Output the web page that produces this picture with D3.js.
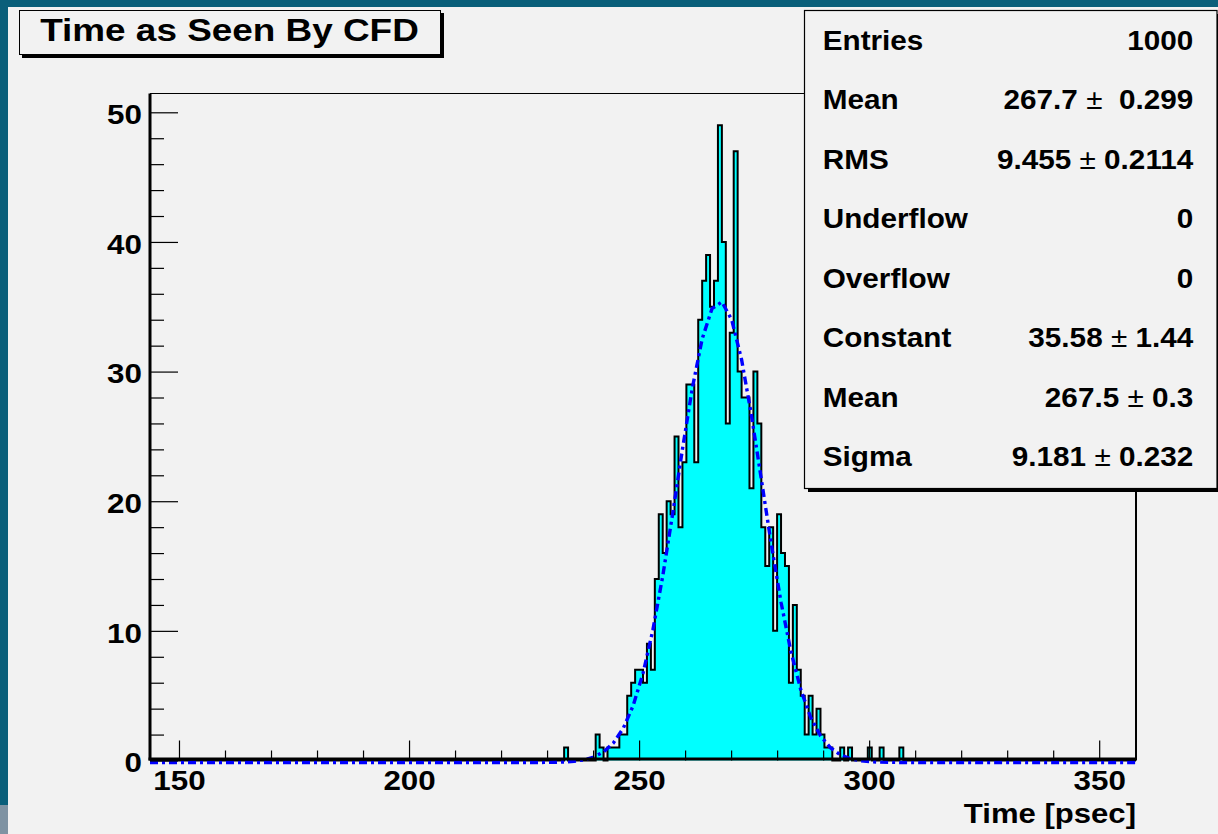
<!DOCTYPE html>
<html><head><meta charset="utf-8">
<script src="https://cdn.jsdelivr.net/npm/d3@7"></script>
<style>
body{margin:0;background:#0a5f7a;}
svg{display:block;}
text{font-family:"Liberation Sans",Arial,Helvetica,sans-serif;font-weight:bold;fill:#000;}
</style>
</head><body>
<svg id="c" width="1218" height="834"></svg>
<script>
// ---- data ----
const titleText = "Time as Seen By CFD";
const xAxisTitle = "Time [psec]";
const xMin = 143.7, xMax = 358.0, nBins = 250;
const firstBin = 100;            // index of the first bin listed in counts
const counts = [
  0,0,0,0,0,1,0,0,0,0, 0,0,0,2,1,0,1,1,1,2, 2,5,6,7,7,6,
  9,7,14,19,16,20,19,25,18,23,29,29,23,34,37,39,35,37,49,
  40,26,33,47,30,28,28,21,30,26,18,15,18,10,19,16,15,6,12,
  7,5,2,5,2,4,2,1,1,0,0,1,0,1,0,0,0,0,1,0,0,1,0,0,0,0,1
];
const fitConstant = 35.58, fitMean = 267.5, fitSigma = 9.181;
const xMajorTicks = [150, 200, 250, 300, 350];
const yMajorTicks = [0, 10, 20, 30, 40, 50];
const statLabels = ["Entries","Mean","RMS","Underflow","Overflow","Constant","Mean","Sigma"];
const statValues = [["1000"],["267.7 ","\u00b1","  0.299"],["9.455 ","\u00b1"," 0.2114"],["0"],["0"],
                    ["35.58 ","\u00b1"," 1.44"],["267.5 ","\u00b1"," 0.3"],["9.181 ","\u00b1"," 0.232"]];

// ---- drawing ----
const W = 1218, H = 834;
const teal = "#0a5f7a", pad = "#f2f2f2";
const svg = d3.select("#c");
svg.append("rect").attr("width", W).attr("height", H).attr("fill", teal);
svg.append("rect").attr("x", 0).attr("y", 805).attr("width", 10).attr("height", H - 805).attr("fill", "#7f93a3");
svg.append("rect").attr("x", 8).attr("y", 7).attr("width", W - 8).attr("height", H - 7).attr("fill", pad);

const frame = {l: 150, r: 1136, t: 93.5, b: 760.5};
const yTop = 1.05 * d3.max(counts);
const x = d3.scaleLinear().domain([xMin, xMax]).range([frame.l, frame.r]);
const y = d3.scaleLinear().domain([0, yTop]).range([frame.b, frame.t]);

function stretch(sel, f, anchor) {
  sel.each(function () {
    const L = this.getComputedTextLength();
    const el = d3.select(this);
    const x0 = +(el.attr("x") || 0);
    el.attr("textLength", L * f).attr("lengthAdjust", "spacingAndGlyphs").attr("text-anchor", "start");
    if (anchor === "middle") el.attr("x", x0 - L * f / 2);
    else if (anchor === "end") el.attr("x", x0 - L * f);
  });
}

svg.append("defs").append("clipPath").attr("id", "fr")
  .append("rect").attr("x", frame.l).attr("y", frame.t).attr("width", frame.r - frame.l).attr("height", frame.b - frame.t + 6);

// histogram
const full = new Array(nBins).fill(0);
counts.forEach((c, k) => { full[firstBin + k] = c; });
const bw = (xMax - xMin) / nBins;
const pts = [[xMin, 0]];
full.forEach((c, i) => { pts.push([xMin + i * bw, c]); pts.push([xMin + (i + 1) * bw, c]); });
pts.push([xMax, 0]);
const gh = svg.append("g").attr("clip-path", "url(#fr)");
gh.append("path")
  .attr("d", d3.area().x(d => x(d[0])).y0(y(0)).y1(d => y(d[1]))(pts))
  .attr("fill", "#00ffff");
gh.append("path")
  .attr("d", d3.line().x(d => x(d[0])).y(d => y(d[1]))(pts))
  .attr("fill", "none").attr("stroke", "#000").attr("stroke-width", 2);

// fit function drawn from its fitted parameters (100 points, as ROOT does)
const fitPts = d3.range(0, 101).map(k => {
  const v = xMin + k * (xMax - xMin) / 100;
  return [v, fitConstant * Math.exp(-0.5 * Math.pow((v - fitMean) / fitSigma, 2))];
});
gh.append("path")
  .attr("transform", "translate(0,2)")
  .attr("d", d3.line().x(d => x(d[0])).y(d => y(d[1]))(fitPts))
  .attr("fill", "none").attr("stroke", "#0000ff").attr("stroke-width", 3.4)
  .attr("stroke-dasharray", "8,4,3,4");

// frame lines
svg.append("line").attr("x1", frame.l).attr("x2", frame.r).attr("y1", frame.t).attr("y2", frame.t)
  .attr("stroke", "#000").attr("stroke-width", 1);
svg.append("line").attr("x1", frame.r).attr("x2", frame.r).attr("y1", frame.t).attr("y2", frame.b)
  .attr("stroke", "#000").attr("stroke-width", 2);

// x axis
const xMinor = d3.range(150, xMax, 10).filter(v => !xMajorTicks.includes(v));
const gxm = svg.append("g").attr("transform", `translate(0,${frame.b})`)
  .call(d3.axisBottom(x).tickValues(xMinor).tickSize(-10).tickFormat(""));
gxm.select(".domain").remove();
gxm.selectAll("line").attr("stroke", "#000").attr("stroke-width", 1.2);
const gx = svg.append("g").attr("transform", `translate(0,${frame.b})`)
  .call(d3.axisBottom(x).tickValues(xMajorTicks).tickSize(-20).tickPadding(10).tickFormat(d3.format("d")));
gx.select(".domain").remove();
gx.attr("font-size", 28).attr("font-family", null);
gx.selectAll("line").attr("stroke", "#000").attr("stroke-width", 1.2);
gx.selectAll("text").attr("fill", "#000").attr("dy", "0.71em");
stretch(gx.selectAll("text"), 1.12, "middle");

// y axis
const yMinor = d3.range(0, 51, 2).filter(v => !yMajorTicks.includes(v));
const gym = svg.append("g").attr("transform", `translate(${frame.l},0)`)
  .call(d3.axisLeft(y).tickValues(yMinor).tickSize(-14).tickFormat(""));
gym.select(".domain").remove();
gym.selectAll("line").attr("stroke", "#000").attr("stroke-width", 1.2);
const gy = svg.append("g").attr("transform", `translate(${frame.l},0)`)
  .call(d3.axisLeft(y).tickValues(yMajorTicks).tickSize(-28).tickPadding(8).tickFormat(d3.format("d")));
gy.select(".domain").remove();
gy.attr("font-size", 28).attr("font-family", null);
gy.selectAll("line").attr("stroke", "#000").attr("stroke-width", 1.2);
gy.selectAll("text").attr("fill", "#000").attr("dy", "0.4em");
stretch(gy.selectAll("text"), 1.12, "end");

// thick axis lines
svg.append("line").attr("x1", frame.l - 1.5).attr("x2", frame.r).attr("y1", frame.b - 1.5).attr("y2", frame.b - 1.5)
  .attr("stroke", "#000").attr("stroke-width", 3);
svg.append("line").attr("x1", frame.l).attr("x2", frame.l).attr("y1", frame.t).attr("y2", frame.b)
  .attr("stroke", "#000").attr("stroke-width", 3);

// x axis title
const xt = svg.append("text").attr("x", frame.r).attr("y", 823).attr("font-size", 28).text(xAxisTitle);
stretch(xt, 1.11, "end");

// title box
svg.append("rect").attr("x", 22).attr("y", 13).attr("width", 422).attr("height", 45).attr("fill", "#000");
svg.append("rect").attr("x", 19.5).attr("y", 10.5).attr("width", 421).attr("height", 44)
  .attr("fill", pad).attr("stroke", "#000").attr("stroke-width", 1);
const tt = svg.append("text").attr("x", 229.5).attr("y", 40.5).attr("font-size", 31).text(titleText);
stretch(tt, 1.19, "middle");

// stats box
const sb = {l: 804, t: 10, r: 1216.5, b: 488};
svg.append("rect").attr("x", sb.l + 4).attr("y", sb.t + 4).attr("width", sb.r - sb.l).attr("height", sb.b - sb.t)
  .attr("fill", "#000");
svg.append("rect").attr("x", sb.l + 0.5).attr("y", sb.t + 0.5).attr("width", sb.r - sb.l).attr("height", sb.b - sb.t)
  .attr("fill", pad).attr("stroke", "#000").attr("stroke-width", 1.2);
const rowY = d3.scalePoint().domain(d3.range(statLabels.length)).range([50, 466]);
statLabels.forEach((lab, i) => {
  const t = svg.append("text").attr("x", 822.7).attr("y", rowY(i)).attr("font-size", 27).text(lab);
  stretch(t, 1.1, "start");
  const v = svg.append("text").attr("x", 1193.3).attr("y", rowY(i)).attr("font-size", 27)
    .attr("xml:space", "preserve").style("white-space", "pre");
  statValues[i].forEach(part => {
    v.append("tspan").attr("font-weight", part === "\u00b1" ? "normal" : "bold").text(part);
  });
  stretch(v, 1.1, "end");
});
</script>
</body></html>
